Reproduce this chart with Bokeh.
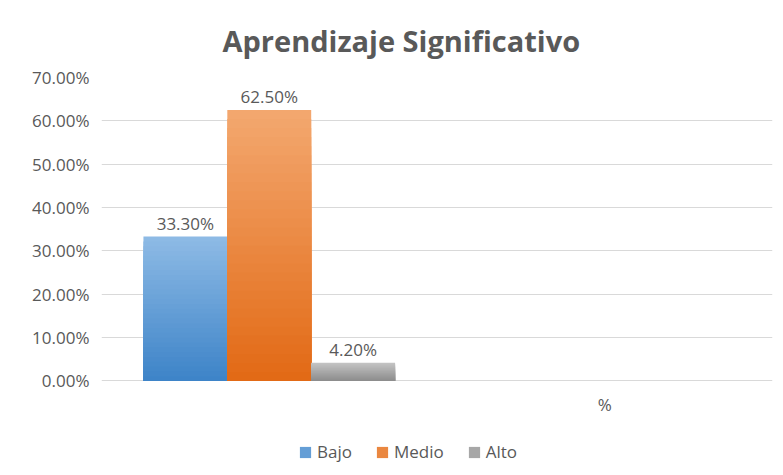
import math
from bokeh.plotting import figure
from bokeh.models import (FactorRange, Range1d, NumeralTickFormatter, Legend,
                          LegendItem, ColumnDataSource, FixedTicker)
from bokeh.transform import dodge
from bokeh.core.properties import value
from bokeh.embed import file_html
from bokeh.resources import INLINE

# ---- data ----
title_text = "Aprendizaje Significativo"
categories = [" ", "%"]
series_names = ["Bajo", "Medio", "Alto"]
bajo = [0.333, float("nan")]
medio = [0.625, float("nan")]
alto = [0.042, float("nan")]
y_ticks = [0.0, 0.1, 0.2, 0.3, 0.4, 0.5, 0.6, 0.7]

series_values = [bajo, medio, alto]
offsets = [-0.25, 0.0, 0.25]
# gradient colours (top, bottom)
grads = [((141, 186, 229), (62, 132, 200)),
         ((243, 167, 110), (226, 106, 22)),
         ((196, 196, 196), (140, 140, 140))]

FONT = "Open Sans"
TXT = "#595959"
FS = "17px"

# layout (pixels): plot area top/zero line, extra room below zero for labels+legend
W, H = 783, 475
TOP, ZERO = 75, 380
y_max = 0.7
y_min = -y_max * (H - ZERO) / (ZERO - TOP)

p = figure(width=W, height=H, output_backend="svg", toolbar_location=None,
           x_range=FactorRange(factors=categories, range_padding=0),
           y_range=Range1d(y_min, y_max), x_axis_location=None,
           min_border_left=101, min_border_right=11, min_border_top=TOP,
           min_border_bottom=0)

p.title.text = title_text
p.title.align = "left"
p.title.text_font = FONT
p.title.text_font_size = "29px"
p.title.text_font_style = "bold"
p.title.text_color = TXT
p.title.offset = 121
p.title.standoff = 36

p.outline_line_color = None
p.background_fill_color = "white"
p.border_fill_color = "white"

N = 30
legend_renderers = []
for name, vals, off, (c0, c1) in zip(series_names, series_values, offsets, grads):
    mid = None
    for k in range(N):
        t = k / (N - 1)
        col = "#%02x%02x%02x" % tuple(int(round(a + (b - a) * t)) for a, b in zip(c0, c1))
        frac = 1 - k / N
        src = ColumnDataSource(dict(x=categories, top=[v * frac for v in vals]))
        r = p.vbar(x=dodge("x", off, range=p.x_range), top="top", bottom=0, width=0.25,
                   source=src, fill_color=col, line_color=None)
        if k == N // 2:
            mid = r
    legend_renderers.append(mid)
    lx = [c for c, v in zip(categories, vals) if not math.isnan(v)]
    ly = [v for v in vals if not math.isnan(v)]
    lsrc = ColumnDataSource(dict(x=lx, y=ly, label=["%.2f%%" % (v * 100) for v in ly]))
    p.text(x=dodge("x", off, range=p.x_range), y="y", text="label", source=lsrc,
           text_align="center", text_baseline="bottom", y_offset=-2,
           text_font=value(FONT), text_font_size=FS, text_color=TXT)

# category labels under the zero line
csrc = ColumnDataSource(dict(x=categories, y=[0] * len(categories), label=categories))
p.text(x="x", y="y", text="label", source=csrc, text_align="center", text_baseline="top",
       y_offset=12, text_font=value(FONT), text_font_size=FS, text_color=TXT)

p.xgrid.grid_line_color = None
p.ygrid.grid_line_color = "#d9d9d9"
p.ygrid.ticker = FixedTicker(ticks=y_ticks)

p.yaxis.ticker = FixedTicker(ticks=y_ticks)
p.yaxis.formatter = NumeralTickFormatter(format="0.00%")
p.yaxis.axis_line_color = None
p.yaxis.major_tick_line_color = None
p.yaxis.minor_tick_line_color = None
p.yaxis.major_label_standoff = 6
p.yaxis.major_label_text_font = FONT
p.yaxis.major_label_text_font_size = FS
p.yaxis.major_label_text_color = TXT

legend = Legend(items=[LegendItem(label=n, renderers=[r]) for n, r in zip(series_names, legend_renderers)],
                orientation="horizontal", location=(197, 12),
                border_line_color=None, background_fill_alpha=0,
                label_text_font=FONT, label_text_font_size=FS, label_text_color=TXT,
                glyph_width=14, glyph_height=14, label_standoff=5, spacing=23,
                margin=0, padding=4)
p.add_layout(legend)

open("out.html", "w").write(file_html(p, INLINE))
